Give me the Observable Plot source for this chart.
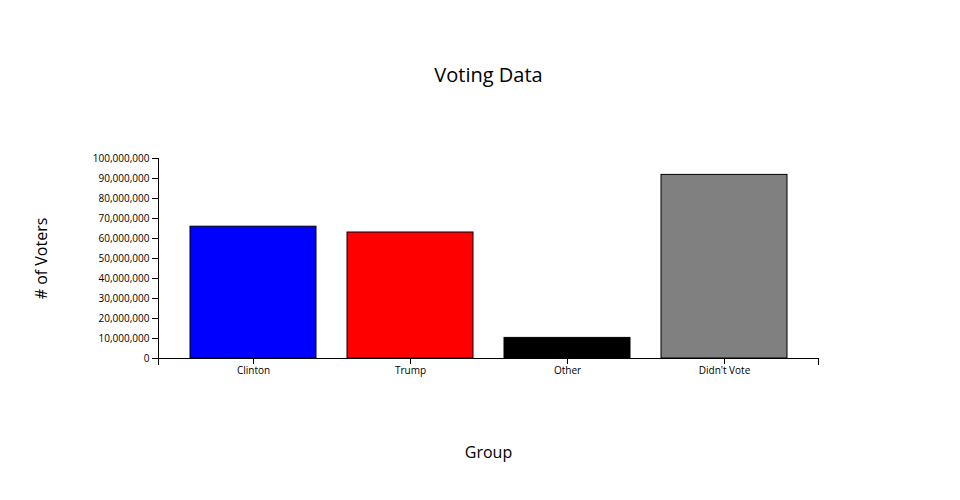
<!DOCTYPE html>
<html>
<head>
<meta charset="utf-8">
<script src="https://cdn.jsdelivr.net/npm/d3@7"></script>
<script src="https://cdn.jsdelivr.net/npm/@observablehq/plot@0.6"></script>
<style>
  html, body { margin: 0; padding: 0; background: #fff; }
  #chart svg { display: block; font-family: "Open Sans", sans-serif; }
</style>
</head>
<body>
<div id="chart"></div>
<script>
const groups = ["Clinton", "Trump", "Other", "Didn't Vote"];
const voters = [65900000, 63000000, 10300000, 91800000];
const barColors = ["#0000ff", "#ff0000", "#000000", "#808080"];
const yTicks = [0, 10000000, 20000000, 30000000, 40000000, 50000000, 60000000, 70000000, 80000000, 90000000, 100000000];

const data = groups.map((g, i) => ({group: g, value: voters[i], color: barColors[i]}));

const chart = Plot.plot({
  width: 960,
  height: 500,
  marginLeft: 158,
  marginRight: 142,
  marginTop: 158,
  marginBottom: 142,
  style: {fontFamily: "Open Sans, sans-serif", color: "#000", background: "#fff"},
  x: {domain: groups, padding: 0.2, label: null},
  y: {domain: [0, 100000000], label: null},
  marks: [
    Plot.barY(data, {x: "group", y: "value", fill: "color", stroke: "#000", strokeWidth: 1}),
    Plot.frame({anchor: "bottom", stroke: "#000"}),
    Plot.frame({anchor: "left", stroke: "#000"}),
    Plot.frame({anchor: "left", insetTop: 200, insetBottom: -6, stroke: "#000"}),
    Plot.frame({anchor: "right", insetTop: 200, insetBottom: -6, stroke: "#000"}),
    Plot.axisX({tickSize: 6, tickPadding: 2, fontSize: 10, fill: "#000", label: null}),
    Plot.axisY({ticks: yTicks, tickSize: 6, tickPadding: 3, fontSize: 10, fill: "#000", tickFormat: d3.format(","), label: null}),
    Plot.axisX({ticks: [], tickSize: 0, fontSize: 16, fill: "#000", label: "Group", labelAnchor: "center", labelOffset: 99, labelArrow: "none"}),
    Plot.axisY({ticks: [], tickSize: 0, fontSize: 16, fill: "#000", label: "# of Voters", labelAnchor: "center", labelOffset: 123, labelArrow: "none"}),
    Plot.text(["Voting Data"], {frameAnchor: "top", dy: -91, fontSize: 20, fill: "#000"})
  ]
});
document.getElementById("chart").appendChild(chart);
</script>
</body>
</html>
